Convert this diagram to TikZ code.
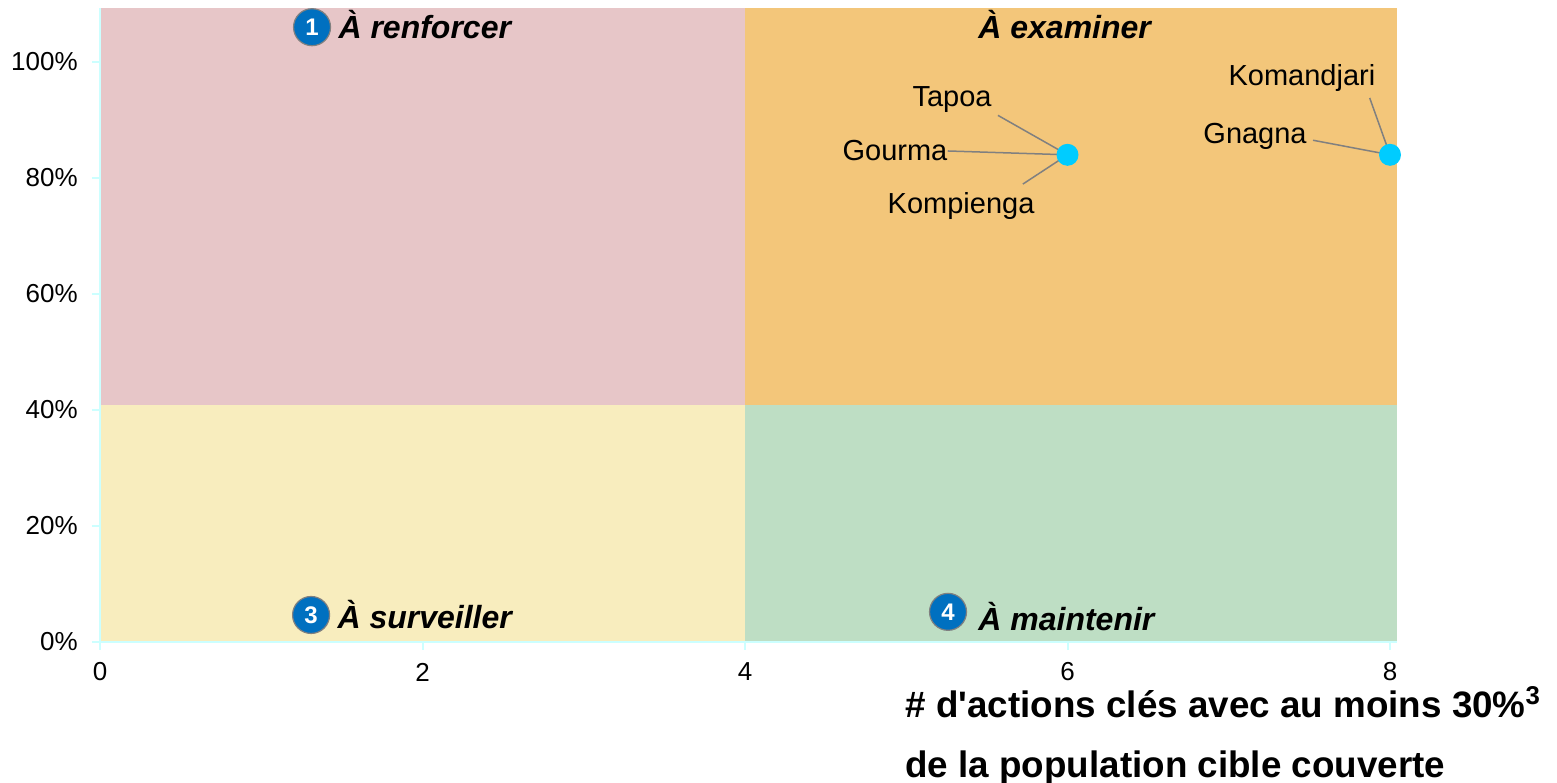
\documentclass[tikz,border=0pt]{standalone}
\usepackage{fontspec}
\setmainfont{Liberation Sans}
\usetikzlibrary{positioning}
\definecolor{qPink}{RGB}{231,198,200}
\definecolor{qOrange}{RGB}{243,198,122}
\definecolor{qYellow}{RGB}{248,237,190}
\definecolor{qGreen}{RGB}{190,222,196}
\definecolor{axCyan}{RGB}{204,255,255}
\definecolor{ptCyan}{RGB}{0,204,255}
\definecolor{badgeBlue}{RGB}{0,112,192}
\definecolor{lblGray}{RGB}{128,128,128}

\tikzset{
  badge/.style={circle, fill=badgeBlue, draw=lblGray, line width=0.6pt, text=white,
    minimum size=18.5pt, inner sep=0pt, font=\fontsize{12}{14}\selectfont\bfseries},
  quadlbl/.style={inner sep=0pt, font=\fontsize{16}{19}\selectfont\bfseries\itshape},
  ptdot/.style={circle, fill=ptCyan, minimum size=11pt, inner sep=0pt},
  ptlbl/.style={inner sep=0pt, font=\fontsize{14.5}{17}\selectfont},
  leader/.style={lblGray, line width=0.75pt}
}

\begin{document}
\begin{tikzpicture}[x=80.625pt, y=2.9pt]
  \useasboundingbox (-0.6202,-24.14) rectangle (9.0357,110.69);

  % Quadrants
  \fill[qPink] (0,40.9) rectangle (4,109.3);
  \fill[qOrange] (4,40.9) rectangle (8.043,109.3);
  \fill[qYellow] (0,0) rectangle (4,40.9);
  \fill[qGreen] (4,0) rectangle (8.043,40.9);

  % Axes
  \draw[axCyan, line width=1pt] (0,0) -- (0,109.3);
  \draw[axCyan, line width=1pt] (-0.05,0) -- (8.043,0);
  \foreach \y in {0,20,...,100} {
    \draw[axCyan, line width=1pt] (-0.05,\y) -- (0,\y);
    \node[anchor=east, inner sep=0pt, font=\fontsize{13}{15}\selectfont] at (-0.136,\y) {\y\%};
  }
  \foreach \x in {0,2,...,8} {
    \draw[axCyan, line width=1pt] (\x,0) -- (\x,-1.38);
    \node[inner sep=0pt, font=\fontsize{13}{15}\selectfont] at (\x,-5.17) {\x};
  }

  % Quadrant labels
  \node[badge] (b1) at (1.315,106.0) {1};
  \node[quadlbl, right=3.5pt of b1, yshift=1.2pt] (renforcer) {À renforcer};
  \node[quadlbl, anchor=west] (examiner) at (5.445,106.4) {À examiner};
  \node[badge] (b3) at (1.309,4.66) {3};
  \node[quadlbl, right=3.5pt of b3] (surveiller) {À surveiller};
  \node[badge] (b4) at (5.259,5.2) {4};
  \node[quadlbl, anchor=west] (maintenir) at (5.445,4.31) {À maintenir};

  % Data points and labels
  \coordinate (ptsix) at (6,84);
  \coordinate (pteight) at (8,84);
  \node[ptlbl] (tapoa) at (5.284,93.45) {Tapoa};
  \node[ptlbl] (gourma) at (4.930,84.66) {Gourma};
  \node[ptlbl] (kompienga) at (5.340,75.17) {Kompienga};
  \node[ptlbl] (komandjari) at (7.454,97.24) {Komandjari};
  \node[ptlbl] (gnagna) at (7.163,87.2) {Gnagna};
  \draw[leader] ([xshift=3pt,yshift=-1pt]tapoa.south east) -- (ptsix);
  \draw[leader] (gourma.east) -- (ptsix);
  \draw[leader] ([xshift=-6pt,yshift=4pt]kompienga.north east) -- (ptsix);
  \draw[leader] ([xshift=-3pt,yshift=-3pt]komandjari.south east) -- (pteight);
  \draw[leader] ([xshift=3pt,yshift=-2pt]gnagna.east) -- (pteight);
  \node[ptdot] (dsix) at (ptsix) {};
  \node[ptdot] (deight) at (pteight) {};

  % Axis title
  \node[anchor=west, align=left, inner sep=0pt, font=\fontsize{18.4}{30}\selectfont\bfseries]
    (xtitle) at (4.992,-16.2) {\# d\textquotesingle actions clés avec au moins 30\%\textsuperscript{3}\\de la population cible couverte};
\end{tikzpicture}
\end{document}
